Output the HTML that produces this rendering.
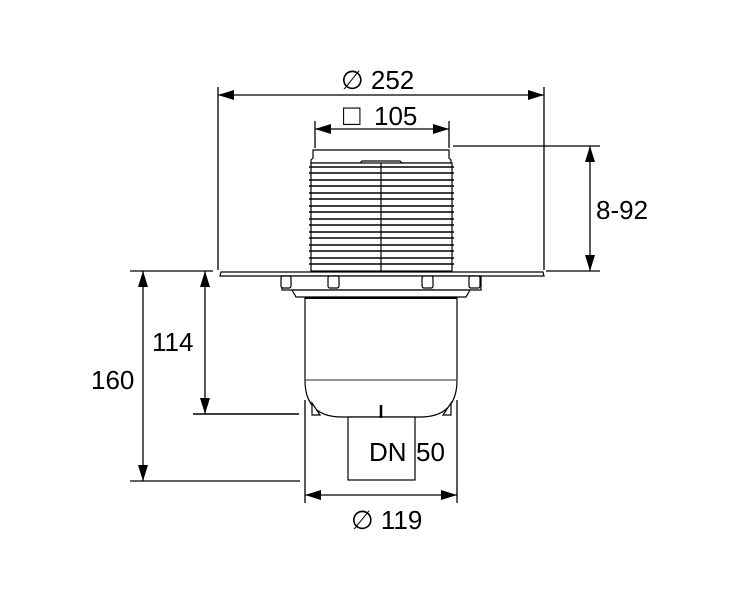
<!DOCTYPE html>
<html><head><style>body{margin:0;background:#fff}svg{display:block}</style></head><body>
<svg width="750" height="600" viewBox="0 0 750 600" xmlns="http://www.w3.org/2000/svg" font-family="Liberation Sans, sans-serif">
<defs>
<marker id="a" viewBox="0 0 16 10" refX="16" refY="5" markerWidth="16" markerHeight="10" markerUnits="userSpaceOnUse" orient="auto-start-reverse"><path d="M0,0 L16,5 L0,10z" fill="#000"/></marker>
</defs>
<g stroke="#000" stroke-width="1.3" fill="none">
<line x1="218" y1="87" x2="218" y2="270"/><line x1="544" y1="87" x2="544" y2="270"/>
<line x1="218" y1="95" x2="544" y2="95" marker-start="url(#a)" marker-end="url(#a)"/>
<line x1="315" y1="121" x2="315" y2="148"/><line x1="449" y1="121" x2="449" y2="148"/>
<line x1="315" y1="129" x2="449" y2="129" marker-start="url(#a)" marker-end="url(#a)"/>
<line x1="453" y1="146" x2="600" y2="146"/><line x1="546" y1="271" x2="600" y2="271"/>
<line x1="590" y1="146" x2="590" y2="271" marker-start="url(#a)" marker-end="url(#a)"/>
<line x1="130" y1="271" x2="213" y2="271"/>
<line x1="143" y1="271" x2="143" y2="481" marker-start="url(#a)" marker-end="url(#a)"/>
<line x1="130" y1="481" x2="300" y2="481"/>
<line x1="205" y1="271" x2="205" y2="414" marker-start="url(#a)" marker-end="url(#a)"/>
<line x1="193" y1="414" x2="299" y2="414" stroke-width="1.6"/>
<line x1="305" y1="400" x2="305" y2="503"/><line x1="457" y1="400" x2="457" y2="503"/>
<line x1="305" y1="495" x2="457" y2="495" marker-start="url(#a)" marker-end="url(#a)"/>
</g>
<g stroke="#000" stroke-width="1.2" fill="#fff">
<path d="M313,150 H449 V158 L451,160 V163 H402 L400,161 H362 L360,163 H311 V160 L313,158 Z"/>
<rect x="311" y="163" width="141" height="108"/>
<path d="M305,297 H457 V380 Q457,417 420,417 H342 Q305,417 305,380 Z"/>
<rect x="348" y="417" width="67" height="63"/>
<path d="M221,272 H543 L544,276 H220 Z"/>
<rect x="282" y="276" width="199" height="14"/>
<path d="M292,290 H470 L466,297 H296 Z"/>
<rect x="281" y="276" width="10" height="12" rx="2"/>
<rect x="328" y="276" width="11" height="12" rx="2"/>
<rect x="422" y="276" width="11" height="12" rx="2"/>
<rect x="469" y="276" width="11" height="12" rx="2"/>
<path d="M312,403 L320,415 H312 Z"/><path d="M451,403 L443,415 H451 Z"/>
</g>
<g stroke="#000" stroke-width="1.2">
<line x1="305" y1="380" x2="457" y2="380" stroke="#555"/>
<line x1="305" y1="298" x2="457" y2="298" stroke-width="2"/>
<line x1="381" y1="163" x2="381" y2="271"/>
<line x1="381" y1="405" x2="381" y2="418" stroke-width="2.5"/>
</g>
<g stroke="#000" stroke-width="1.5">
<line x1="309" y1="167" x2="454" y2="167"/><line x1="309" y1="173" x2="454" y2="173"/>
<line x1="309" y1="180" x2="454" y2="180"/><line x1="309" y1="186" x2="454" y2="186"/>
<line x1="309" y1="193" x2="454" y2="193"/><line x1="309" y1="199" x2="454" y2="199"/>
<line x1="309" y1="206" x2="454" y2="206"/><line x1="309" y1="212" x2="454" y2="212"/>
<line x1="309" y1="219" x2="454" y2="219"/><line x1="309" y1="225" x2="454" y2="225"/>
<line x1="309" y1="232" x2="454" y2="232"/><line x1="309" y1="238" x2="454" y2="238"/>
<line x1="309" y1="245" x2="454" y2="245"/><line x1="309" y1="251" x2="454" y2="251"/>
<line x1="309" y1="258" x2="454" y2="258"/><line x1="309" y1="264" x2="454" y2="264"/>
</g>
<g font-size="26" fill="#000">
<text x="341" y="89">∅ 252</text>
<text x="343" y="125" font-size="29">□</text><text x="374" y="125">105</text>
<text x="596" y="219">8-92</text>
<text x="152" y="351">114</text>
<text x="91" y="389">160</text>
<text x="369" y="461">DN</text><text x="416" y="461">50</text>
<text x="351" y="529">∅ 119</text>
</g>
</svg>
</body></html>
